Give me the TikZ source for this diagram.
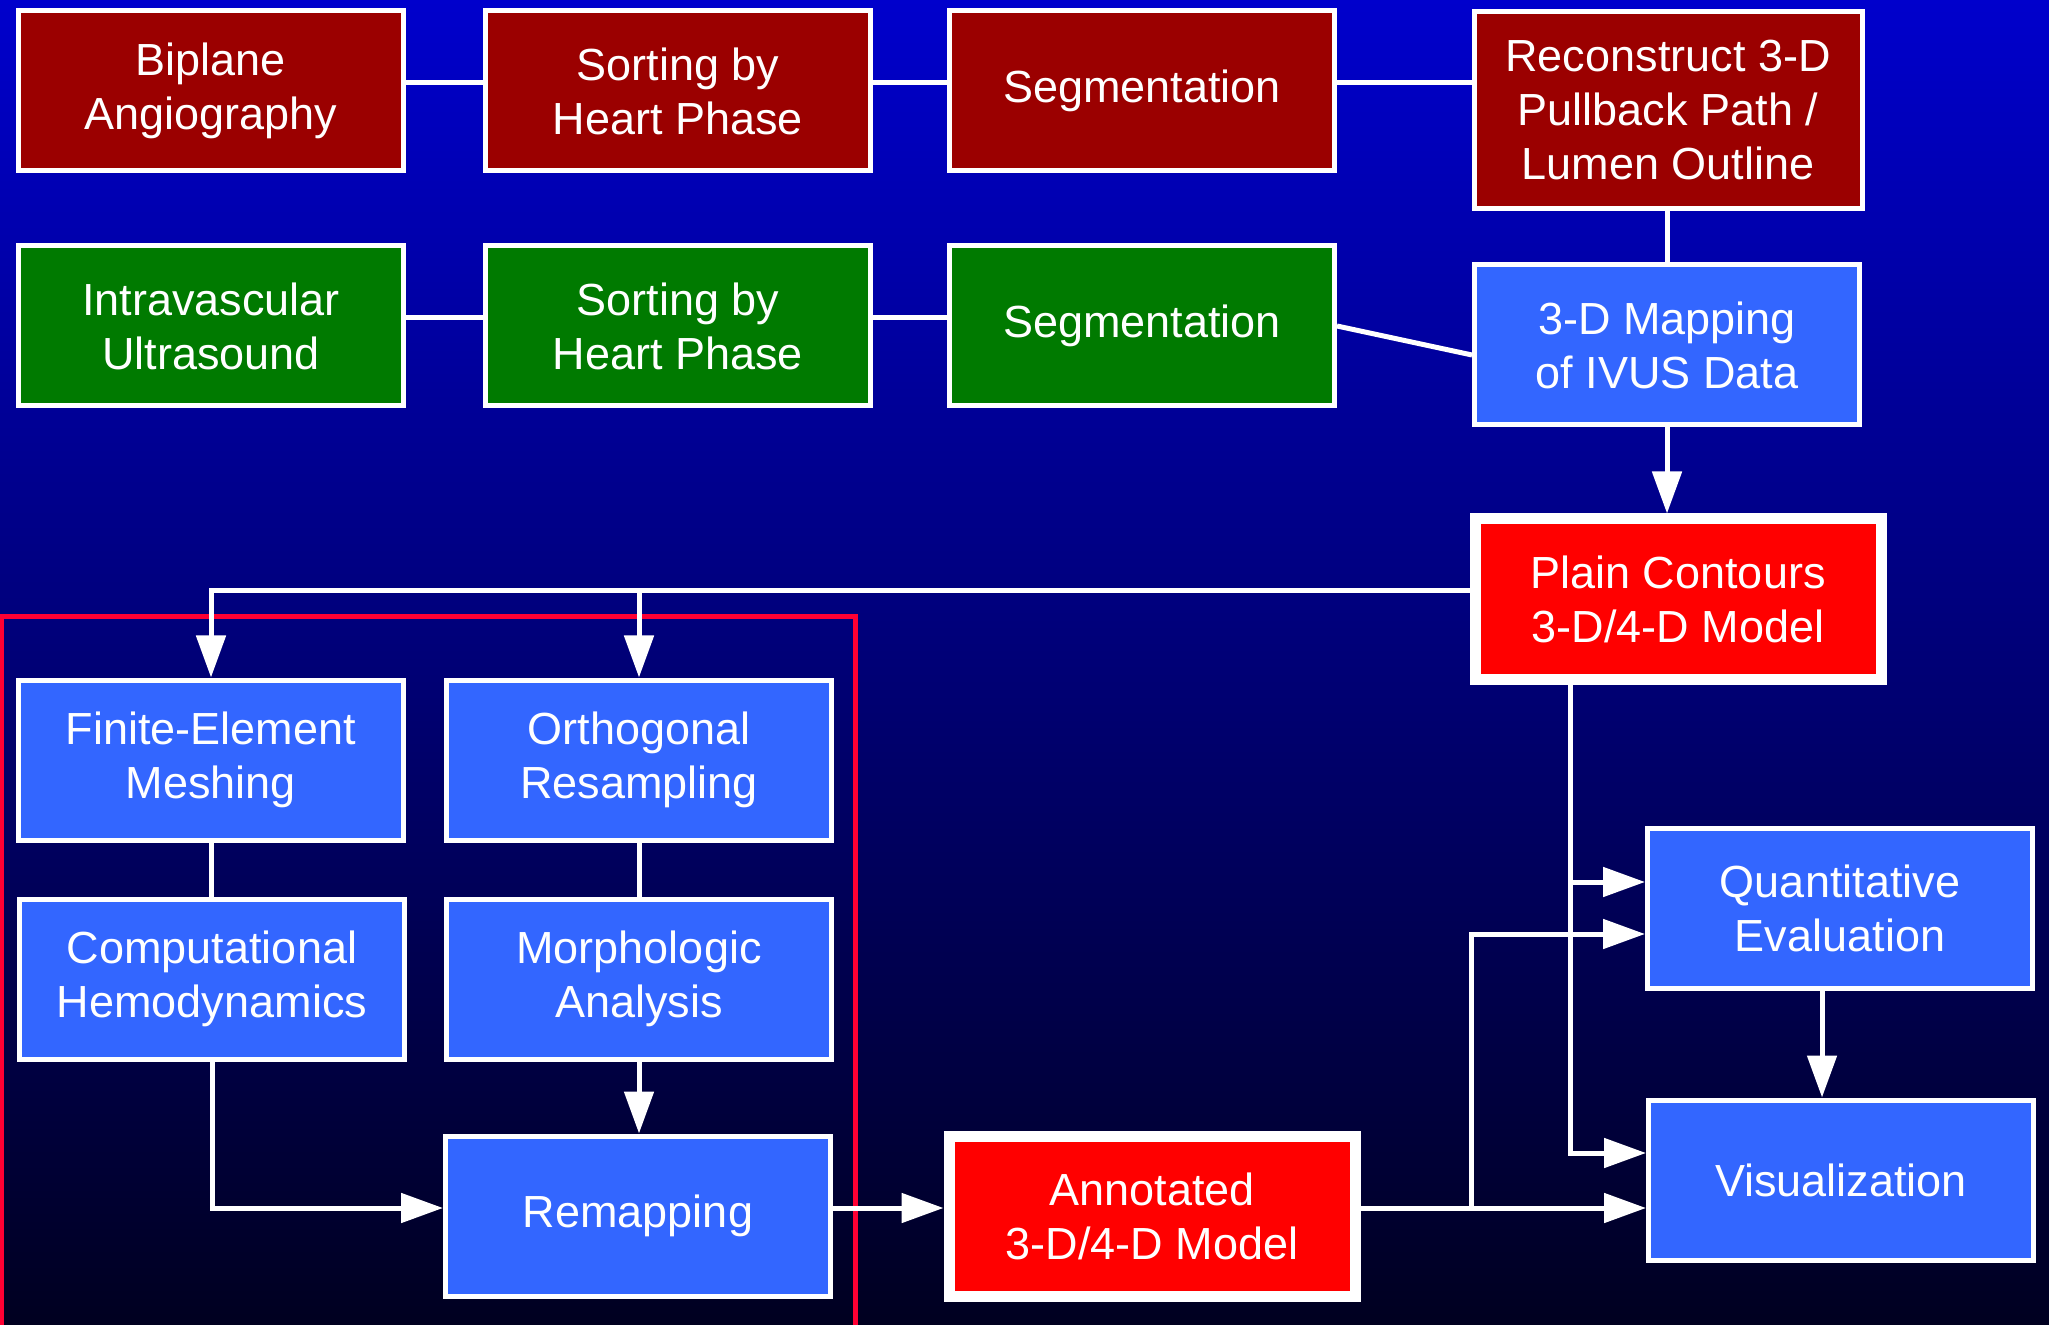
\documentclass[tikz,border=0pt]{standalone}
\usepackage{fontspec}
\setmainfont{Liberation Sans}
\usepackage{tikz}
\usetikzlibrary{arrows.meta,positioning,calc}
\definecolor{angred}{RGB}{155,0,0}
\definecolor{ivusgreen}{RGB}{0,122,0}
\definecolor{procblue}{RGB}{51,102,255}
\definecolor{modelred}{RGB}{255,0,0}
\definecolor{framered}{RGB}{255,0,51}
\definecolor{bgtop}{RGB}{0,0,204}
\definecolor{bgmid}{RGB}{0,0,140}
\definecolor{bgbot}{RGB}{0,0,32}

\begin{document}
\begin{tikzpicture}[x=0.5pt,y=-0.5pt,>={Triangle[length=21pt,width=14.5pt]},
  box/.style={draw=white,line width=2.5pt,text=white,minimum width=192.5pt,minimum height=80pt,inner sep=0pt,align=center,font=\fontsize{22.5}{27}\selectfont},
  model/.style={box,fill=modelred,line width=5.5pt,minimum width=203pt,minimum height=80pt},
  link/.style={draw=white,line width=2.5pt}]
  \useasboundingbox (0,0) rectangle (2049,1325);
  \shade[top color=bgtop,middle color=bgmid,bottom color=bgbot] (0,0) rectangle (2049,1325);
  \draw[framered,line width=2.5pt] (1.5,1325) -- (1.5,617) -- (855,617) -- (855,1325);

  \node[box,fill=angred] (bip) at (211,91) {Biplane\\Angiography};
  \node[box,fill=angred] (sorta) at (678,91) {Sorting by\\Heart Phase};
  \node[box,fill=angred] (sega) at (1142,91) {Segmentation};
  \node[box,fill=angred,minimum width=194pt,minimum height=98.5pt] (recon) at (1668,110) {Reconstruct 3-D\\Pullback Path /\\Lumen Outline};
  \node[box,fill=ivusgreen] (ivus) at (211,326) {Intravascular\\Ultrasound};
  \node[box,fill=ivusgreen] (sortb) at (678,326) {Sorting by\\Heart Phase};
  \node[box,fill=ivusgreen] (segb) at (1142,326) {Segmentation};
  \node[box,fill=procblue] (map) at (1667,345) {3-D Mapping\\of IVUS Data};
  \node[model] (plain) at (1678,599) {Plain Contours\\3-D/4-D Model};
  \node[box,fill=procblue] (fem) at (211,760) {Finite-Element\\Meshing};
  \node[box,fill=procblue] (ortho) at (639,760) {Orthogonal\\Resampling};
  \node[box,fill=procblue] (cfd) at (212,979) {Computational\\Hemodynamics};
  \node[box,fill=procblue] (morph) at (639,979) {Morphologic\\Analysis};
  \node[box,fill=procblue] (remap) at (638,1216) {Remapping};
  \node[model] (annot) at (1152,1216) {Annotated\\3-D/4-D Model};
  \node[box,fill=procblue] (quant) at (1840,908) {Quantitative\\Evaluation};
  \node[box,fill=procblue] (vis) at (1841,1180) {Visualization};

  \draw[link] ([yshift=4pt]bip.east) -- ([yshift=4pt]sorta.west);
  \draw[link] ([yshift=4pt]sorta.east) -- ([yshift=4pt]sega.west);
  \draw[link] ([yshift=4pt]sega.east) -- ([yshift=4pt]sega.east -| recon.west);
  \draw[link] ([yshift=4pt]ivus.east) -- ([yshift=4pt]sortb.west);
  \draw[link] ([yshift=4pt]sortb.east) -- ([yshift=4pt]segb.west);
  \draw[link] (segb.east) -- ([yshift=-5pt]map.west);
  \draw[link] (map.north |- recon.south) -- (map.north);
  \draw[link,->] (map.south) -- (map.south |- plain.north);

  \coordinate (split) at ([yshift=4pt]plain.west);
  \draw[link,->] (split) -| (fem.north);
  \draw[link,->] (split -| ortho.north) -- (ortho.north);
  \draw[link] (fem.south) -- (fem.south |- cfd.north);
  \draw[link] (ortho.south) -- (morph.north);
  \draw[link,->] (morph.south) -- (morph.south |- remap.north);
  \draw[link,->] (cfd.south) |- ([yshift=4pt]remap.west);
  \draw[link,->] ([yshift=4pt]remap.east) -- ([yshift=4pt]annot.west);

  \coordinate (fork) at ($([yshift=4pt]annot.east)+(111,0)$);
  \draw[link,->] ([yshift=4pt]annot.east) -- ([yshift=4pt]annot.east -| vis.west);
  \draw[link,->] (fork) |- ([yshift=-13pt]quant.west);
  \coordinate (drop) at ([xshift=-54pt]plain.south);
  \draw[link,->] (drop) |- ([yshift=13.5pt]vis.west);
  \draw[link,->] ([yshift=13pt]quant.west -| drop) -- ([yshift=13pt]quant.west);
  \draw[link,->] ([xshift=-9pt]quant.south) -- ([xshift=-9pt]quant.south |- vis.north);
\end{tikzpicture}
\end{document}
